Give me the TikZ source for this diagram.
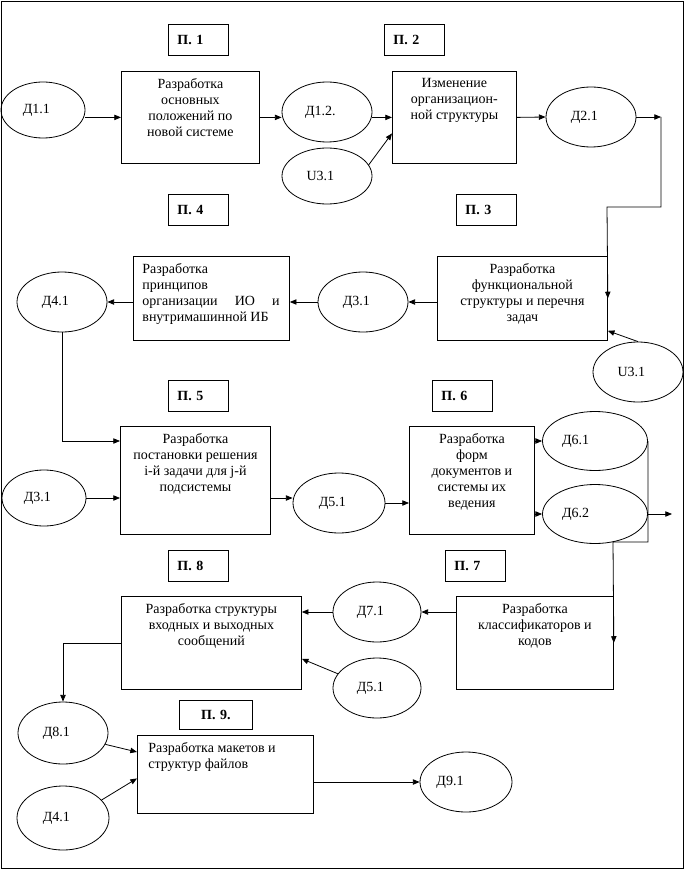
\documentclass[tikz,border=0pt]{standalone}
\usepackage{fontspec}
\setmainfont{Liberation Serif}
\usetikzlibrary{positioning,shapes.geometric,arrows.meta}
\begin{document}
\fontsize{10.5}{12}\selectfont
\begin{tikzpicture}
  [x=0.75pt, y=-0.75pt, line width=0.6pt,
   every node/.style={inner sep=0pt},
   proc/.style={draw, anchor=north west},
   txt/.style={align=center},
   lbl/.style={draw, font=\bfseries, text width=31.5pt, inner xsep=6.75pt,
               minimum height=23.25pt, anchor=north west, align=left},
   data/.style={draw, ellipse, minimum width=67.5pt, minimum height=45pt,
                execute at end node=\hspace*{10pt}},
   arr/.style={-{Triangle[length=5pt,width=4pt]}}]
  \useasboundingbox (0,0) rectangle (686,870);
  \draw (1.5,1.5) rectangle (683.5,868.5);

  \node[lbl] (p1) at (168,24) {П. 1};
  \node[lbl] (p2) at (384,24) {П. 2};
  \node[lbl] (p3) at (456,194) {П. 3};
  \node[lbl] (p4) at (168,194) {П. 4};
  \node[lbl] (p5) at (168,380) {П. 5};
  \node[lbl] (p6) at (432,380) {П. 6};
  \node[lbl] (p7) at (445,550) {П. 7};
  \node[lbl] (p8) at (168,550) {П. 8};
  \node[lbl, text width=54.75pt, inner xsep=0pt, minimum height=21.75pt, align=center] (p9) at (179,700) {П. 9.};

  \node[proc, minimum width=103.5pt, minimum height=69pt] (b1) at (121,71) {};
  \node[proc, minimum width=93pt, minimum height=69pt] (b2) at (392,71) {};
  \node[proc, minimum width=127.5pt, minimum height=63pt] (b3) at (437,256) {};
  \node[proc, minimum width=117pt, minimum height=63pt] (b4) at (133,256) {};
  \node[proc, minimum width=112.5pt, minimum height=81pt] (b5) at (120,426) {};
  \node[proc, minimum width=93.75pt, minimum height=81pt] (b6) at (409,426) {};
  \node[proc, minimum width=117.75pt, minimum height=69.75pt] (b7) at (456,596) {};
  \node[proc, minimum width=135pt, minimum height=69.75pt] (b8) at (121,596) {};
  \node[proc, minimum width=132pt, minimum height=58.5pt] (b9) at (137,735) {};

  \node[txt, below=5.5pt of b1.north] (t1) {Разработка\\основных\\положений по\\новой системе};
  \node[txt, below=5.5pt of b2.north] (t2) {Изменение\\организацион-\\ной структуры};
  \node[txt, below=5.5pt of b3.north] (t3) {Разработка\\функциональной\\структуры и перечня\\задач};
  \node[below right=5.5pt and 6.75pt of b4.north west, text width=103pt, align=justify] (t4)
    {Разработка\newline принципов\newline организации ИО и\linebreak внутримашинной ИБ};
  \node[txt, below=5.5pt of b5.north] (t5) {Разработка\\постановки решения\\i-й задачи для j-й\\подсистемы};
  \node[txt, below=5.5pt of b6.north] (t6) {Разработка\\форм\\документов и\\системы их\\ведения};
  \node[txt, below=5.5pt of b7.north] (t7) {Разработка\\классификаторов и\\кодов};
  \node[txt, below=5.5pt of b8.north] (t8) {Разработка структуры\\входных и выходных\\сообщений};
  \node[below right=5.5pt and 8.25pt of b9.north west, align=left] (t9) {Разработка макетов и\\структур файлов};

  \node[data, minimum width=63pt, minimum height=42pt] (d11) at (43,110) {Д1.1};
  \node[data] (d12) at (327,112) {Д1.2.};
  \node[data, minimum height=42pt] (u31a) at (327,176) {U3.1};
  \node[data] (d21) at (591,117) {Д2.1};
  \node[data] (d31) at (363,302) {Д3.1};
  \node[data] (d41) at (62,302) {Д4.1};
  \node[data] (u31b) at (638,372) {U3.1};
  \node[data, minimum width=63pt, minimum height=42pt] (d31b) at (44,498) {Д3.1};
  \node[data, minimum width=69pt] (d51) at (339,503) {Д5.1};
  \node[data, minimum width=78.75pt, minimum height=44.25pt, execute at end node=\hspace*{19pt}] (d61) at (595,441) {Д6.1};
  \node[data, minimum width=78.75pt, minimum height=44.25pt, execute at end node=\hspace*{19pt}] (d62) at (595,514) {Д6.2};
  \node[data, minimum width=66pt] (d71) at (377,612) {Д7.1};
  \node[data, minimum width=66pt] (d51b) at (377,688) {Д5.1};
  \node[data, minimum height=46.5pt] (d81) at (63,733) {Д8.1};
  \node[data, minimum width=69pt, minimum height=48pt] (d42) at (63,818) {Д4.1};
  \node[data, minimum width=69pt, execute at end node=\hspace*{14pt}] (d91) at (466,782) {Д9.1};

  \coordinate (c1) at (661,117);
  \coordinate (c2) at (607,207);
  \coordinate (c3) at (613,542);
  \coordinate (c4) at (672,514);

  \draw[arr] (b1.west -| d11.east) -- (b1.west);
  \draw[arr] (b1.east) -- (b1.east -| d12.west);
  \draw[arr] (b2.west -| d12.east) -- (b2.west);
  \draw[arr] (u31a.15) -- ([yshift=-12pt]b2.west);
  \draw[arr] (b2.east) -- (d21.west);
  \draw[arr] (d21.east) -- (c1);
  \draw[arr] (c1) |- (c2) -- (b3.east);
  \draw[arr] (b3.west |- d31) -- (d31.east);
  \draw[arr] (d31.west) -- (b4.east |- d31);
  \draw[arr] (b4.west |- d41) -- (d41.east);
  \draw[arr] (d41.south) |- ([yshift=-11.25pt]b5.north west);
  \draw[arr] (u31b.north) -- ([yshift=7.5pt]b3.south east);
  \draw[arr] (d31b.east) -- (b5.west |- d31b);
  \draw[arr] (b5.east |- d31b) -- (d51.west |- d31b);
  \draw[arr] (d51.east) -- (b6.west |- d51);
  \draw[arr] (b6.east |- d61) -- (d61.west);
  \draw[arr] (b6.east |- d62) -- (d62.west);
  \draw[arr] (d61.east) |- (c3) -- (b7.east);
  \draw[arr] (d62.east) -- (c4);
  \draw[arr] (b7.west |- d71) -- (d71.east);
  \draw[arr] (d71.west) -- (b8.east |- d71);
  \draw[arr] (d51b.160) -- ([yshift=23.25pt]b8.south east);
  \draw[arr] (b8.west) -| (d81.north);
  \draw[arr] (d81.-15) -- ([yshift=-12.75pt]b9.north west);
  \draw[arr] (d42.25) -- ([yshift=-3pt]b9.west);
  \draw[arr] (b9.east |- d91) -- (d91.west);
\end{tikzpicture}
\end{document}
